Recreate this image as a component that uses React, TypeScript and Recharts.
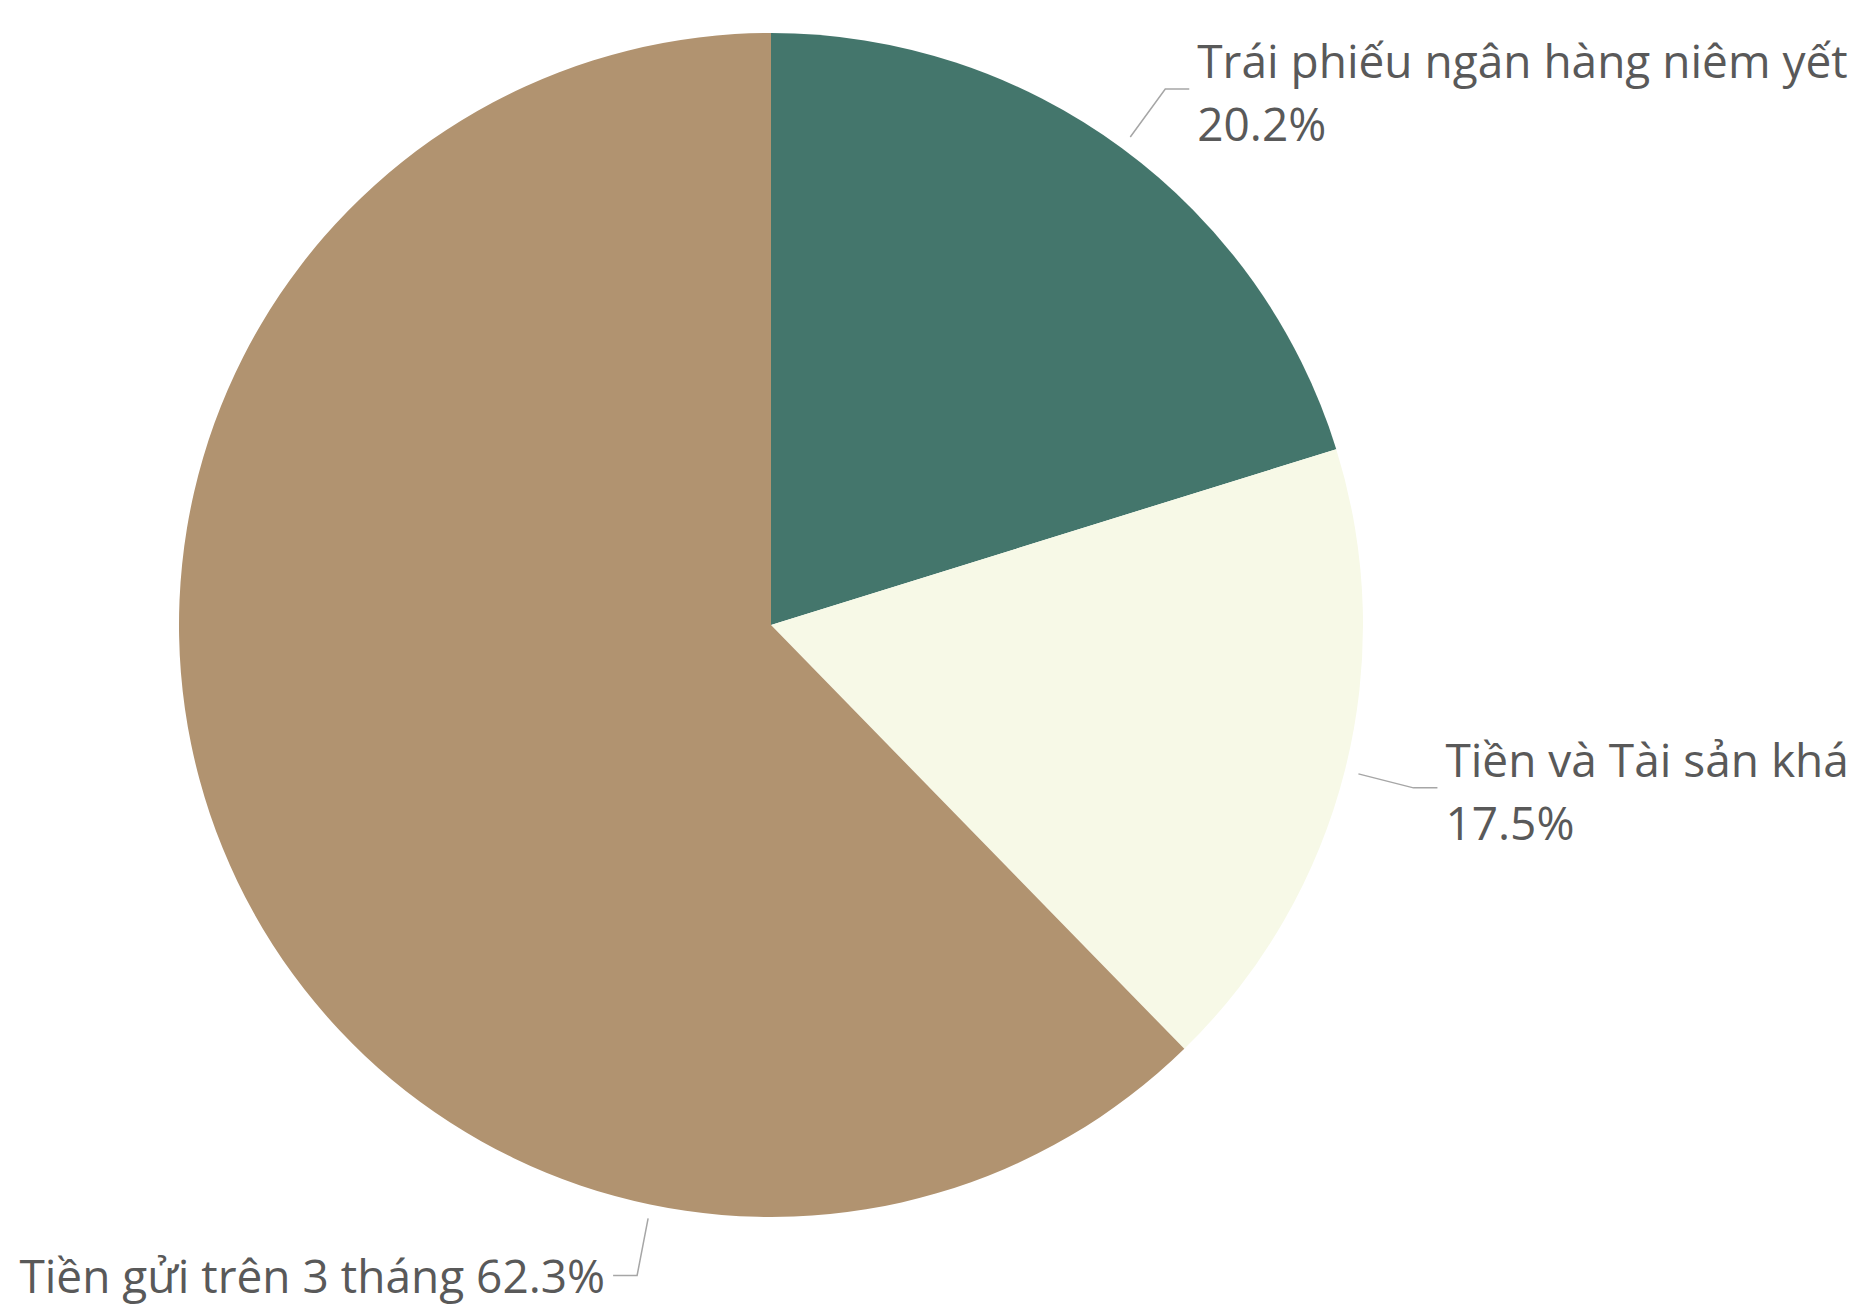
import React from "react";
import { PieChart, Pie, Cell } from "recharts";

const categories = ["Trái phiếu ngân hàng niêm yết", "Tiền và Tài sản khác", "Tiền gửi trên 3 tháng"];
const values = [20.2, 17.5, 62.3];
const colors = ["#44766C", "#F7F9E7", "#B19370"];

// label layout: anchor angle override (deg, null = mid angle), elbow offset, side
const LABEL_LAYOUT = [
  { angle: null as number | null, ex: 35, ey: -48, side: 1, lines: 2 },
  { angle: null as number | null, ex: 55, ey: 14, side: 1, lines: 2 },
  { angle: -101.7 as number | null, ex: -11, ey: 57, side: -1, lines: 1 },
];

const data = categories.map((name, i) => ({ name, value: values[i] }));

const FONT = "'Open Sans', sans-serif";
const FS = 46;
const TEXT = "#595959";
const LINE = "#A6A6A6";

const RAD = Math.PI / 180;

function renderLabel(props: any) {
  const { cx, cy, midAngle, outerRadius, index, name, value } = props;
  const lay = LABEL_LAYOUT[index];
  const ang = lay.angle == null ? midAngle : lay.angle;
  const r = outerRadius + 14;
  const sx = cx + r * Math.cos(ang * RAD);
  const sy = cy - r * Math.sin(ang * RAD);
  const mx = sx + lay.ex;
  const my = sy + lay.ey;
  const hx = mx + lay.side * 24;
  const tx = hx + lay.side * 8;
  const pct = `${value.toFixed(1)}%`;
  return (
    <g key={`lbl-${index}`}>
      <polyline points={`${sx},${sy} ${mx},${my} ${hx},${my}`} fill="none" stroke={LINE} strokeWidth={1.5} />
      {lay.lines === 2 ? (
        <text fontFamily={FONT} fontSize={FS} fill={TEXT} textAnchor={lay.side > 0 ? "start" : "end"}>
          <tspan x={tx} y={my - 11}>{name}</tspan>
          <tspan x={tx} y={my + 52}>{pct}</tspan>
        </text>
      ) : (
        <text x={tx} y={my + 18} fontFamily={FONT} fontSize={FS} fill={TEXT} textAnchor={lay.side > 0 ? "start" : "end"}>
          {`${name} ${pct}`}
        </text>
      )}
    </g>
  );
}

export default function App() {
  return (
    <div style={{ position: "fixed", left: 0, top: 0, width: 1850, height: 1310, background: "#fff" }}>
      <PieChart width={1850} height={1310}>
        <Pie
          data={data}
          dataKey="value"
          nameKey="name"
          cx={766}
          cy={620}
          outerRadius={592}
          startAngle={90}
          endAngle={-270}
          stroke="none"
          label={renderLabel}
          labelLine={false}
          isAnimationActive={false}
        >
          {data.map((d, i) => (
            <Cell key={d.name} fill={colors[i]} />
          ))}
        </Pie>
      </PieChart>
    </div>
  );
}
